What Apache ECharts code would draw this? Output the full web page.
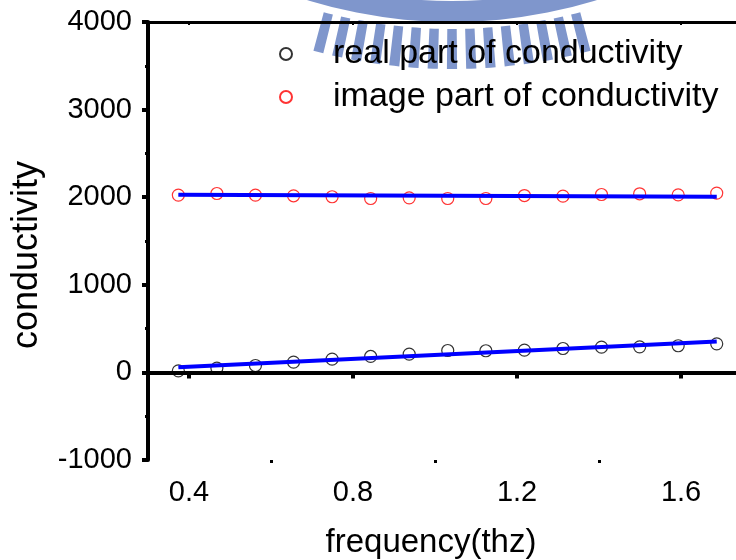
<!DOCTYPE html>
<html>
<head>
<meta charset="utf-8">
<script src="https://cdn.jsdelivr.net/npm/echarts@6/dist/echarts.min.js"></script>
<style>
html, body { margin: 0; padding: 0; background: #fff; }
#chart { width: 736px; height: 560px; }
</style>
</head>
<body>
<div id="chart"></div>
<script>
const frequency = [0.374, 0.468, 0.562, 0.655, 0.749, 0.843, 0.937, 1.031, 1.124, 1.218, 1.312, 1.406, 1.499, 1.593, 1.687]
const realPart = [18, 49, 79, 118, 152, 182, 209, 250, 247, 255, 273, 289, 292, 304, 326]
const imagePart = [2024, 2042, 2024, 2016, 2005, 1985, 1993, 1985, 1985, 2019, 2013, 2031, 2039, 2027, 2047]
const fitFrequency = [0.374, 1.687]
const realFit = [60, 353]
const imageFit = [2027, 2005]
const xTicks = [0.4, 0.8, 1.2, 1.6]
const xMinorTicks = [0.6, 1.0, 1.4]

const font = "Liberation Sans"
const zip = (xs, ys) => xs.map((x, i) => [x, ys[i]])

// watermark (faint logo at the top of the scan)
const wmColor = "#7f96cc"
const wmCx = 452, wmCy = -467
let watermark = [{
	type: "ring",
	z: 0,
	shape: { cx: wmCx, cy: wmCy, r: 489, r0: 468 },
	style: { fill: wmColor }
}]
for (let k = -7; k <= 7; k++) {
	let a = Math.PI / 2 + k * 0.036
	watermark.push({
		type: "sector",
		z: 0,
		shape: { cx: wmCx, cy: wmCy, r0: 496, r: 536, startAngle: a - 0.0095, endAngle: a + 0.0095 },
		style: { fill: wmColor }
	})
}

let chart = echarts.init(document.getElementById("chart"))

let option = {
	animation: false,
	textStyle: { fontFamily: font },
	graphic: watermark,
	grid: { left: 148, top: 22, right: 0, bottom: 100, outerBoundsMode: "none", containLabel: false },
	legend: {
		orient: "vertical",
		left: 274,
		top: 32,
		itemWidth: 12,
		itemHeight: 12,
		itemGap: 9,
		data: ["real part of conductivity", "image part of conductivity"],
		textStyle: { fontFamily: font, fontSize: 34, color: "#000", padding: [0, 0, 0, 36] }
	},
	xAxis: [
		{
			type: "value",
			min: 0.3,
			max: 1.734,
			position: "bottom",
			name: "frequency(thz)",
			nameLocation: "middle",
			nameGap: 66,
			nameTextStyle: { fontFamily: font, fontSize: 33, color: "#000", padding: [0, 22, 0, 0] },
			axisLine: { lineStyle: { color: "#000", width: 4 } },
			axisTick: { customValues: xTicks, length: 6, lineStyle: { color: "#000", width: 4 } },
			axisLabel: {
				customValues: xTicks,
				formatter: v => v.toFixed(1),
				fontSize: 29,
				color: "#000",
				margin: 18
			},
			splitLine: { show: false }
		},
		{
			type: "value",
			min: 0.3,
			max: 1.734,
			position: "bottom",
			axisLine: { show: false },
			axisTick: { customValues: xMinorTicks, length: 3, lineStyle: { color: "#000", width: 3 } },
			axisLabel: { show: false },
			splitLine: { show: false }
		},
		{
			type: "value",
			min: 0.3,
			max: 1.734,
			position: "top",
			axisLine: { lineStyle: { color: "#000", width: 3 } },
			axisTick: { customValues: xTicks, inside: true, length: 3, lineStyle: { color: "#000", width: 2 } },
			axisLabel: { show: false },
			splitLine: { show: false }
		}
	],
	yAxis: {
		type: "value",
		min: -1000,
		max: 4000,
		interval: 1000,
		name: "conductivity",
		nameLocation: "middle",
		nameGap: 103,
		nameTextStyle: { fontFamily: font, fontSize: 36, color: "#000", padding: [0, 28, 0, 0] },
		axisLine: { show: true, lineStyle: { color: "#000", width: 4 } },
		axisTick: { length: 6, lineStyle: { color: "#000", width: 4 } },
		minorTick: { show: true, splitNumber: 2, length: 3, lineStyle: { color: "#000", width: 3 } },
		axisLabel: { formatter: v => String(v), fontSize: 29, color: "#000", margin: 16 },
		splitLine: { show: false }
	},
	series: [
		{
			name: "real part of conductivity",
			type: "scatter",
			symbol: "circle",
			symbolSize: 12,
			itemStyle: { color: "rgba(0,0,0,0)", borderColor: "#000", borderWidth: 1.2 },
			data: zip(frequency, realPart),
			z: 3
		},
		{
			name: "image part of conductivity",
			type: "scatter",
			symbol: "circle",
			symbolSize: 12,
			itemStyle: { color: "rgba(0,0,0,0)", borderColor: "#ff0000", borderWidth: 1.2 },
			data: zip(frequency, imagePart),
			z: 3
		},
		{
			name: "real fit",
			type: "line",
			symbol: "none",
			lineStyle: { color: "#0000ff", width: 4 },
			data: zip(fitFrequency, realFit),
			z: 4
		},
		{
			name: "image fit",
			type: "line",
			symbol: "none",
			lineStyle: { color: "#0000ff", width: 4 },
			data: zip(fitFrequency, imageFit),
			z: 4
		}
	]
}
chart.setOption(option)
</script>
</body>
</html>
